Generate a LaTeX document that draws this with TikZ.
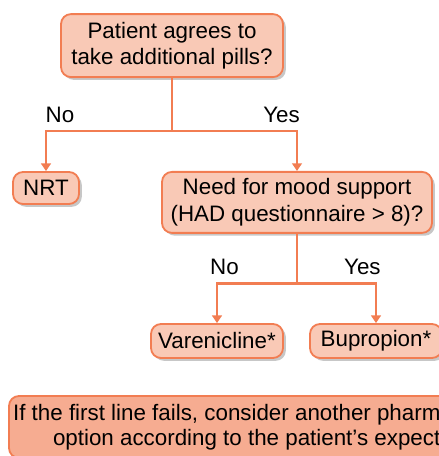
\documentclass[tikz,border=0pt]{standalone}
\usepackage{fontspec}
\setmainfont{Liberation Sans}
\usetikzlibrary{arrows.meta, positioning, shadows}
\definecolor{flowline}{RGB}{242,125,82}
\definecolor{flowfill}{RGB}{249,201,182}
\definecolor{notefill}{RGB}{246,172,145}

\begin{document}
\begin{tikzpicture}[
    box/.style={draw=flowline, fill=flowfill, line width=1.3pt, rounded corners=0.25cm,
        align=center, inner sep=2pt, font=\fontsize{15.9pt}{19pt}\selectfont,
        drop shadow={shadow xshift=2pt, shadow yshift=-2pt, fill=black!22, opacity=1}},
    notebox/.style={draw=flowline, fill=notefill, line width=1.3pt, rounded corners=0.25cm,
        align=center, inner sep=2pt, font=\fontsize{15.9pt}{18pt}\selectfont},
    link/.style={flowline, line width=1.9pt},
    arr/.style={link, -{Triangle[width=7pt,length=5.5pt]}},
    lbl/.style={anchor=base, font=\fontsize{15.9pt}{19pt}\selectfont}
]
    \useasboundingbox (0,0) rectangle (10.975,11.4);
    \clip (0,0) rectangle (10.975,11.4);

    % Decision boxes
    \node[box, minimum width=5.55cm, minimum height=1.575cm] (agree) at (4.30,10.26)
        {Patient agrees to\\take additional pills?};
    \node[box, minimum width=1.65cm, minimum height=0.8cm] (nrt) at (1.15,6.70) {NRT};
    \node[box, minimum width=6.75cm, minimum height=1.525cm] (mood) at (7.425,6.34)
        {Need for mood support\\(HAD questionnaire > 8)?};
    \node[box, minimum width=3.3cm, minimum height=0.85cm] (vare) at (5.425,2.875) {Varenicline*};
    \node[box, minimum width=3.3cm, minimum height=0.85cm] (bupr) at (9.4,2.875) {Bupropion*};

    % Note at the bottom (runs past the frame)
    \node[notebox, minimum width=13.375cm, minimum height=1.55cm] (note) at (6.9125,0.725)
        {If the first line fails, consider another pharmacological\\option according to the patient’s expectations};

    % First split
    \draw[link] (agree.south) -- ++(0,-1.325) coordinate (split1);
    \draw[arr] (split1) -| (nrt.north);
    \draw[arr] (split1) -| (mood.north);
    \node[lbl] (no1) at (1.5,8.33) {No};
    \node[lbl] (yes1) at (7.04,8.33) {Yes};

    % Second split
    \draw[link] (mood.south) -- ++(0,-1.25) coordinate (split2);
    \draw[arr] (split2) -| (vare.north);
    \draw[arr] (split2) -| (bupr.north);
    \node[lbl] (no2) at (5.61,4.525) {No};
    \node[lbl] (yes2) at (9.06,4.525) {Yes};
\end{tikzpicture}
\end{document}
